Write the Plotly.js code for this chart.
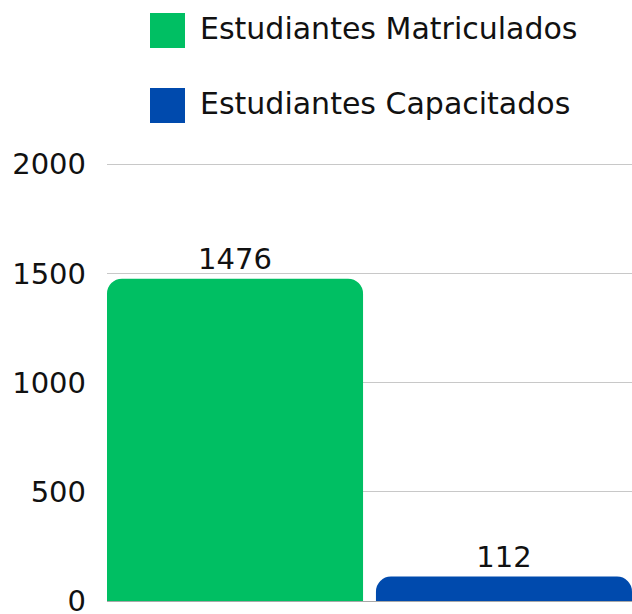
<!DOCTYPE html>
<html>
<head>
<meta charset="utf-8">
<script src="https://cdn.plot.ly/plotly-3.0.1.min.js"></script>
<style>html,body{margin:0;padding:0;background:#fff}#chart{width:632px;height:614px}</style>
</head>
<body>
<div id="chart"></div>
<script>
const categories = ['Estudiantes Matriculados', 'Estudiantes Capacitados'];
const values = [1476, 112];
const colors = ['#00BF63', '#004AAD'];
const yTicks = [0, 500, 1000, 1500, 2000];

const FONT = 'DejaVu Sans, sans-serif';
const TXT = '#111111';
const barW = 0.952;

const traces = categories.map((c, i) => ({
  type: 'bar',
  x: [i],
  y: [values[i]],
  width: barW,
  name: c,
  marker: {color: colors[i], cornerradius: 15},
  text: [String(values[i])],
  textposition: 'outside',
  textfont: {family: FONT, size: 29, color: TXT},
  cliponaxis: false,
  showlegend: false,
  hoverinfo: 'none'
}));

const mT = 162, mB = 13, plotH = 614 - mT - mB;
const shapes = [];
const annotations = [];
categories.forEach((c, i) => {
  const yc = 30.5 + 75 * i;
  shapes.push({
    type: 'rect', xref: 'paper', yref: 'paper',
    x0: (150 - 107) / 525, x1: (185 - 107) / 525,
    y0: (614 - mB - (yc + 17.5)) / plotH,
    y1: (614 - mB - (yc - 17.5)) / plotH,
    fillcolor: colors[i], line: {width: 0}
  });
  annotations.push({
    xref: 'paper', yref: 'paper',
    x: (198 - 107) / 525, y: (614 - mB - (28 + 75 * i)) / plotH,
    xanchor: 'left', yanchor: 'middle',
    text: c, showarrow: false,
    font: {family: FONT, size: 30, color: TXT}
  });
});

const layout = {
  width: 632, height: 614,
  margin: {l: 107, r: 0, t: mT, b: mB, pad: 0},
  paper_bgcolor: '#ffffff', plot_bgcolor: '#ffffff',
  barmode: 'overlay',
  showlegend: false,
  xaxis: {
    range: [-barW / 2, 1 + barW / 2],
    showgrid: false, zeroline: false, showticklabels: false, ticks: '',
    fixedrange: true
  },
  yaxis: {
    range: [0, 2010],
    tickvals: yTicks,
    ticktext: yTicks.map(String),
    showgrid: true, gridcolor: '#c8c8c8', gridwidth: 1,
    zeroline: true, zerolinecolor: '#a8a8a8', zerolinewidth: 1,
    ticks: '', ticklabelstandoff: 20,
    ticklabeloverflow: 'allow',
    tickfont: {family: FONT, size: 29, color: TXT},
    fixedrange: true
  },
  shapes: shapes,
  annotations: annotations,
  font: {family: FONT, color: TXT}
};

Plotly.newPlot('chart', traces, layout, {displayModeBar: false, staticPlot: true});
</script>
</body>
</html>
